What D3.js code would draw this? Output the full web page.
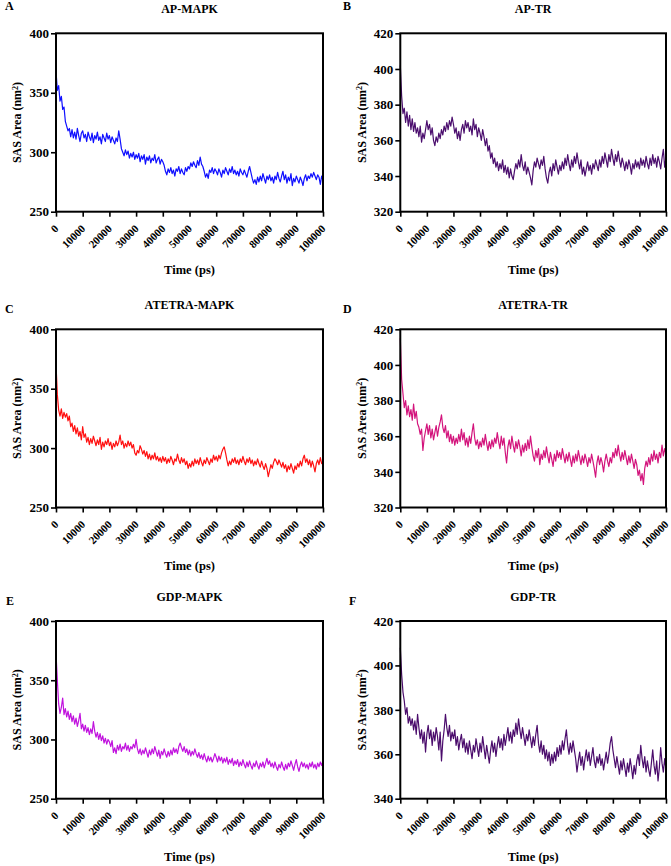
<!DOCTYPE html>
<html><head><meta charset="utf-8">
<script src="https://cdn.jsdelivr.net/npm/d3@7"></script>
<style>
body{margin:0;background:#fff}
text{font-family:"Liberation Serif","Times New Roman",serif;font-weight:bold;fill:#000}
</style></head>
<body><svg id="chart" width="671" height="866"></svg>
<script>
// ---------- DATA ----------
const times = d3.range(0, 100001, 500); // sampling every 500 ps
const xTicks = [0,10000,20000,30000,40000,50000,60000,70000,80000,90000,100000];
const titles = ["AP-MAPK","AP-TR","ATETRA-MAPK","ATETRA-TR","GDP-MAPK","GDP-TR"];
const letters = ["A","B","C","D","E","F"];
const yTicksMAPK = [250,300,350,400];
const yTicksTR = [320,340,360,380,400,420];
const yTicksGDPTR = [340,360,380,400,420];

const apMapk = [
368,352,356,343,347,336,338,326,322,318,
320,313,319,312,317,311,320,314,309,316,
318,312,315,309,317,313,310,316,308,314,
311,317,310,313,307,315,312,309,316,311,
314,308,313,310,307,312,309,318,311,303,
300,297,302,298,301,295,299,296,300,294,
298,295,299,292,297,294,298,290,296,293,
297,291,295,293,298,291,294,296,290,294,
292,289,284,281,286,283,287,282,285,280,
286,284,288,282,286,283,281,287,284,288,
286,291,288,292,289,287,293,289,296,290,
288,284,279,282,278,285,283,287,282,286,
284,281,286,283,279,285,282,287,284,281,
286,283,288,282,285,281,284,280,286,283,
281,285,282,279,284,288,283,278,274,277,
273,279,275,280,276,282,278,274,280,277,
281,276,279,274,280,277,283,278,275,280,
284,277,281,274,279,276,282,272,278,275,
280,277,274,279,276,272,278,281,276,280,
278,282,279,283,280,277,281,279,273,280,
276];
const apTr = [
402,385,375,378,370,376,368,374,366,372,
365,370,364,367,362,368,359,364,361,366,
371,366,369,363,367,360,357,362,359,364,
361,366,363,368,365,370,366,371,368,373,
369,364,367,361,365,360,366,369,364,371,
367,370,365,368,363,372,366,369,362,367,
364,360,366,362,357,361,354,357,350,353,
347,350,345,348,343,347,344,349,342,346,
341,345,339,344,340,338,343,347,344,349,
345,352,346,343,348,341,345,342,339,335,
343,348,345,350,347,344,349,346,351,344,
339,336,342,345,340,347,343,349,345,341,
346,343,348,344,350,346,352,347,343,349,
345,351,347,353,348,344,349,341,345,340,
344,348,343,346,341,347,344,349,346,343,
349,345,351,347,353,349,345,352,348,355,
350,346,352,348,354,349,345,350,347,343,
348,344,349,346,341,347,344,349,345,348,
344,350,346,349,345,351,347,344,350,346,
352,347,350,345,351,348,344,350,355,345,
350];
const atetraMapk = [
371,345,332,327,333,325,330,326,329,323,
327,318,321,314,319,312,317,310,314,307,
318,309,312,305,309,303,308,304,310,306,
302,307,303,309,299,305,301,306,303,308,
302,305,299,304,301,306,302,305,311,303,
306,300,304,301,306,302,305,300,303,296,
294,298,296,302,299,295,298,293,297,291,
295,290,294,291,296,290,293,289,292,288,
293,289,292,287,291,288,293,290,286,291,
289,295,290,287,292,288,291,286,289,283,
287,284,289,285,291,287,290,286,292,288,
285,290,287,292,289,286,291,288,294,290,
293,289,294,291,296,299,301,296,290,285,
289,286,291,288,292,287,290,286,291,288,
293,289,286,291,288,292,287,290,285,289,
286,291,287,284,289,285,282,287,283,276,
281,286,283,288,291,289,286,290,287,284,
288,283,286,280,285,282,287,283,279,285,
282,287,284,289,285,291,294,288,291,286,
290,284,289,285,280,287,290,286,292,287,
289];
const atetraTr = [
415,392,384,376,380,372,377,371,375,369,
378,370,374,367,365,361,364,352,359,363,
367,361,366,359,364,358,362,366,360,365,
368,372,365,362,366,359,363,357,361,356,
360,355,359,356,361,357,364,358,362,355,
359,354,360,356,362,367,359,355,358,353,
357,354,359,355,361,356,352,357,353,358,
354,359,356,362,357,353,360,355,359,351,
345,354,358,353,360,355,351,357,353,358,
354,349,355,351,356,352,358,353,360,354,
349,346,352,348,353,344,350,347,352,348,
354,349,345,351,347,343,350,346,352,348,
351,347,353,349,345,350,346,351,347,343,
349,345,350,346,352,348,344,349,345,350,
347,343,348,345,350,346,342,337,345,349,
344,348,345,340,346,350,346,343,348,345,
351,348,353,349,355,350,346,351,347,352,
348,344,349,345,350,346,342,347,344,338,
341,335,339,333,342,346,343,348,344,350,
346,352,347,350,345,351,348,355,349,353,
350];
const gdpMapk = [
373,350,330,322,327,335,321,326,319,324,
317,322,315,320,313,318,311,316,322,309,
313,307,312,306,310,304,309,305,315,307,
302,306,300,305,299,303,297,301,296,300,
298,294,299,289,293,288,295,291,296,290,
294,292,297,291,295,290,294,292,296,293,
300,292,288,292,287,291,288,293,289,285,
291,287,292,288,294,290,286,291,284,290,
287,292,288,285,290,286,291,287,293,289,
292,288,294,297,293,290,294,289,292,287,
291,286,290,287,292,288,285,289,284,287,
283,288,284,281,286,282,285,281,284,288,
285,281,286,282,285,280,284,281,285,279,
283,280,284,278,282,279,283,277,281,278,
283,279,276,281,277,282,278,275,280,277,
282,278,275,280,277,281,276,280,284,279,
282,277,280,276,281,277,274,279,276,281,
277,274,279,275,280,277,282,278,274,279,
283,277,273,278,281,277,280,276,279,275,
280,277,281,276,279,275,280,277,281,278,
282];
const gdpTr = [
408,396,388,384,378,381,374,377,373,376,
371,375,369,378,372,367,371,365,370,361,
369,373,367,371,364,370,366,372,368,362,
370,357,366,371,378,372,368,373,366,370,
367,371,364,368,362,366,369,363,367,361,
365,360,366,362,358,364,361,367,363,359,
365,361,368,363,358,364,360,356,362,366,
361,365,359,364,368,363,367,362,369,364,
368,372,366,370,365,371,368,374,369,376,
371,367,372,368,364,369,366,371,367,363,
368,364,369,373,365,361,366,360,364,358,
362,357,361,355,360,356,361,357,363,359,
364,360,366,362,367,371,364,360,365,361,
366,362,358,352,357,361,355,359,353,358,
362,357,361,355,359,363,357,354,359,356,
360,355,358,353,357,361,356,360,365,368,
362,358,354,359,355,351,357,353,358,354,
350,356,352,358,354,349,355,351,357,360,
355,364,358,354,359,352,357,353,350,356,
362,355,351,357,348,354,363,356,352,358,
353];

const series = [apMapk, apTr, atetraMapk, atetraTr, gdpMapk, gdpTr];
const yDomains = [[250,400],[320,420],[250,400],[320,420],[250,400],[340,420]];
const yTickSets = [yTicksMAPK, yTicksTR, yTicksMAPK, yTicksTR, yTicksMAPK, yTicksGDPTR];
const colors = ["#0f0fff","#4b0e6e","#ff1010","#d3147c","#c112de","#4b0c6c"];

// ---------- LAYOUT ----------
const colX = [[56,323],[400.3,666]];
const rowY = [[33.3,211.7],[329.3,507.5],[621,798.7]];
const letterPos = [[5,9.8],[343,9.8],[5,313],[343,313],[6,605],[349,605]];

const svg = d3.select("#chart");

series.forEach((vals, i) => {
  const c = i % 2, r = Math.floor(i / 2);
  const [x0, x1] = colX[c], [y0, y1] = rowY[r];
  const x = d3.scaleLinear().domain([0, 100000]).range([x0, x1]);
  const y = d3.scaleLinear().domain(yDomains[i]).range([y1, y0]);
  const g = svg.append("g");

  // line
  const line = d3.line().x((d, k) => x(times[k])).y(d => y(d));
  g.append("path").datum(vals)
    .attr("fill", "none").attr("stroke", colors[i])
    .attr("stroke-width", 1.2).attr("stroke-linejoin", "round")
    .attr("d", line);

  // frame
  g.append("rect").attr("x", x0).attr("y", y0)
    .attr("width", x1 - x0).attr("height", y1 - y0)
    .attr("fill", "none").attr("stroke", "#000").attr("stroke-width", 2);

  // y axis
  const ya = g.append("g").attr("transform", `translate(${x0},0)`)
    .call(d3.axisLeft(y).tickValues(yTickSets[i]).tickSize(5).tickPadding(2).tickFormat(d3.format("d")));
  ya.select(".domain").remove();
  ya.selectAll(".tick line").attr("stroke", "#000").attr("stroke-width", 1.6);
  ya.selectAll(".tick text").style("font-size", "13px").style("font-family", '"Liberation Serif",serif').style("font-weight", "bold");

  // x axis
  const xa = g.append("g").attr("transform", `translate(0,${y1})`)
    .call(d3.axisBottom(x).tickValues(xTicks).tickSize(5).tickFormat(d3.format("d")));
  xa.select(".domain").remove();
  xa.selectAll(".tick line").attr("stroke", "#000").attr("stroke-width", 1.6);
  xa.selectAll(".tick text")
    .attr("x", 0).attr("y", 0).attr("dy", "0.35em")
    .attr("transform", "translate(0,15) rotate(-45)")
    .style("text-anchor", "end")
    .style("font-size", "11px").style("font-family", '"Liberation Serif",serif').style("font-weight", "bold");

  // title
  g.append("text").attr("x", (x0 + x1) / 2).attr("y", y0 - 20.5)
    .attr("text-anchor", "middle").style("font-size", "12px").text(titles[i]);

  // letter
  g.append("text").attr("x", letterPos[i][0]).attr("y", letterPos[i][1])
    .style("font-size", "12px").text(letters[i]);

  // x label
  g.append("text").attr("x", (x0 + x1) / 2).attr("y", y1 + 62.5)
    .attr("text-anchor", "middle").style("font-size", "12.5px").text("Time (ps)");

  // y label
  const yl = g.append("text")
    .attr("transform", `translate(${x0 - 39},${(y0 + y1) / 2}) rotate(-90)`)
    .attr("text-anchor", "middle").attr("dy", "0.35em").style("font-size", "12px");
  yl.append("tspan").text("SAS Area (nm");
  yl.append("tspan").attr("dy", "-0.45em").style("font-size", "8px").text("2");
  yl.append("tspan").attr("dy", "0.3em").text(")");
});
</script>
</body></html>
